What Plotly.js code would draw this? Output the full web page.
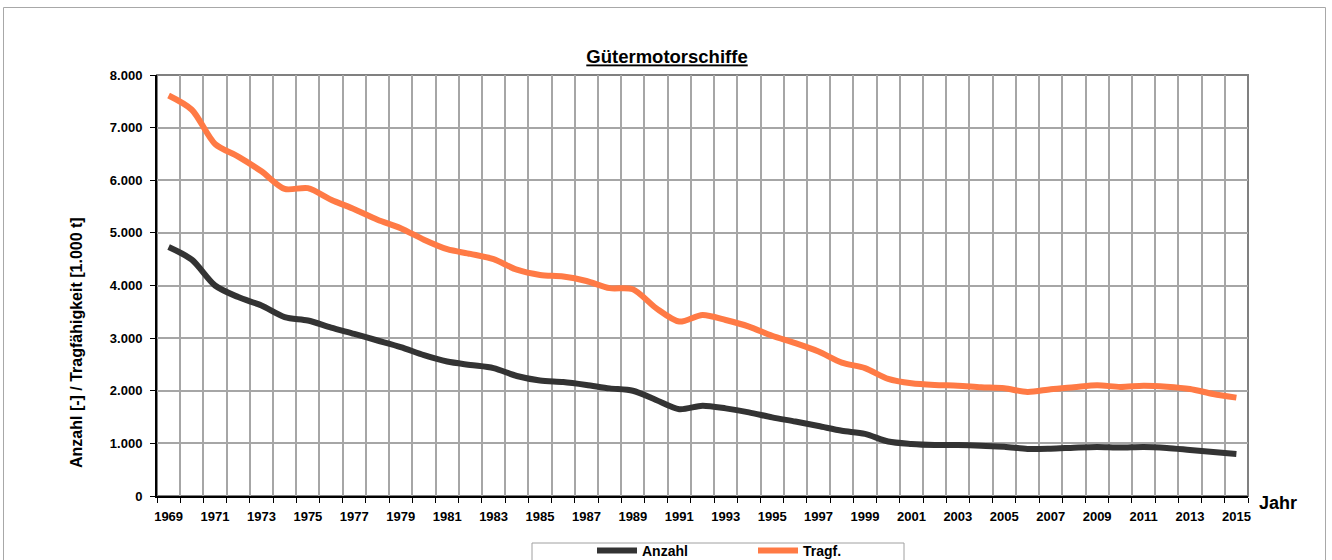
<!DOCTYPE html>
<html><head><meta charset="utf-8">
<script src="https://cdn.plot.ly/plotly-3.0.1.min.js"></script>
<style>html,body{margin:0;padding:0;background:#fff}#chart{width:1332px;height:560px}</style>
</head><body><div id="chart"></div>
<script>
const years = [1969,1970,1971,1972,1973,1974,1975,1976,1977,1978,1979,1980,1981,1982,1983,1984,1985,1986,1987,1988,1989,1990,1991,1992,1993,1994,1995,1996,1997,1998,1999,2000,2001,2002,2003,2004,2005,2006,2007,2008,2009,2010,2011,2012,2013,2014,2015];
const anzahl = [4730,4490,4000,3780,3620,3400,3335,3200,3080,2955,2830,2675,2555,2490,2430,2280,2195,2165,2110,2045,2000,1825,1650,1715,1665,1590,1495,1415,1330,1240,1180,1035,990,970,968,955,938,895,900,918,932,920,932,913,875,837,800];
const tragf = [7610,7340,6690,6450,6170,5835,5850,5630,5450,5250,5090,4870,4690,4600,4500,4300,4200,4170,4085,3950,3930,3570,3315,3440,3345,3220,3045,2905,2745,2535,2430,2225,2142,2110,2097,2066,2047,1977,2028,2066,2104,2072,2097,2078,2034,1939,1869];
const tickYears = years.filter(y => (y - 1969) % 2 === 0);
const seriesNames = ['Anzahl', 'Tragf.'];

const L = 157, R = 1248, T = 75, B = 496, W = 1332, H = 560;
const px = x => (x - L) / (R - L);
const py = y => (B - y) / (B - T);
const FONT = 'Liberation Sans, Arial, sans-serif';

const traces = [
  {x: years, y: anzahl, name: seriesNames[0], type: 'scatter', mode: 'lines',
   line: {color: '#333333', width: 6, shape: 'spline', smoothing: 0.8}},
  {x: years, y: tragf, name: seriesNames[1], type: 'scatter', mode: 'lines',
   line: {color: '#FF7A45', width: 6, shape: 'spline', smoothing: 0.8}}
];

const layout = {
  width: W, height: H,
  margin: {l: L, r: W - R, t: T, b: H - B, pad: 0, autoexpand: false},
  paper_bgcolor: '#ffffff', plot_bgcolor: '#ffffff',
  separators: ',.',
  font: {family: FONT, size: 13, color: '#000'},
  showlegend: true,
  title: {text: '<b>Gütermotorschiffe</b>', x: 667 / W, xref: 'container', xanchor: 'center',
          y: 1 - 57 / H, yref: 'container', yanchor: 'middle',
          font: {family: FONT, size: 18.5, color: '#000', lineposition: 'under'}},
  xaxis: {
    range: [1968.5, 2015.5], tickmode: 'array', tickvals: tickYears, ticktext: tickYears.map(String),
    showgrid: false, zeroline: false, ticks: '', ticklabelstandoff: 7,
    showline: true, linecolor: '#000', linewidth: 2,
    tickfont: {family: FONT, size: 13, color: '#000', weight: 'bold'},
    minor: {tick0: 1968.5, dtick: 1, showgrid: true, gridcolor: '#a6a6a6', gridwidth: 2,
            ticks: 'outside', ticklen: 5, tickcolor: '#000', tickwidth: 1}
  },
  yaxis: {
    range: [0, 8000], dtick: 1000, tick0: 0, tickformat: ',d',
    showgrid: true, gridcolor: '#a6a6a6', gridwidth: 2, zeroline: false,
    showline: true, linecolor: '#000', linewidth: 2,
    ticks: 'outside', ticklen: 5, tickcolor: '#000', tickwidth: 1, ticklabelstandoff: 5,
    tickfont: {family: FONT, size: 13, color: '#000', weight: 'bold'}
  },
  legend: {orientation: 'h', x: px(592), xanchor: 'left', y: py(535), yanchor: 'top',
           bgcolor: 'rgba(0,0,0,0)', borderwidth: 0,
           font: {family: FONT, size: 14, color: '#000', weight: 'bold'},
           entrywidth: 106, entrywidthmode: 'pixels', itemwidth: 40},
  shapes: [
    {type: 'rect', xref: 'paper', yref: 'paper', x0: 0, x1: 1, y0: 0, y1: 1,
     line: {color: '#808080', width: 2}, layer: 'below'},
    {type: 'rect', xref: 'paper', yref: 'paper', x0: px(532), x1: px(904), y0: py(543), y1: py(575),
     line: {color: '#a0a0a0', width: 1}, layer: 'above'},
    {type: 'rect', xref: 'paper', yref: 'paper', x0: px(3.5), x1: px(1325.5), y0: py(580), y1: py(7.5),
     line: {color: '#a8a8a8', width: 1}, layer: 'above'}
  ],
  annotations: [
    {text: '<b>Anzahl [-] / Tragfähigkeit [1.000 t]</b>', textangle: -90,
     xref: 'paper', yref: 'paper', x: px(76), y: py(342), xanchor: 'center', yanchor: 'middle',
     showarrow: false, font: {family: FONT, size: 16, color: '#000'}},
    {text: '<b>Jahr</b>', xref: 'paper', yref: 'paper', x: px(1257), y: py(503),
     xanchor: 'left', yanchor: 'middle', showarrow: false,
     font: {family: FONT, size: 18, color: '#000'}}
  ]
};

Plotly.newPlot('chart', traces, layout, {staticPlot: true, displayModeBar: false});
</script>
</body></html>
